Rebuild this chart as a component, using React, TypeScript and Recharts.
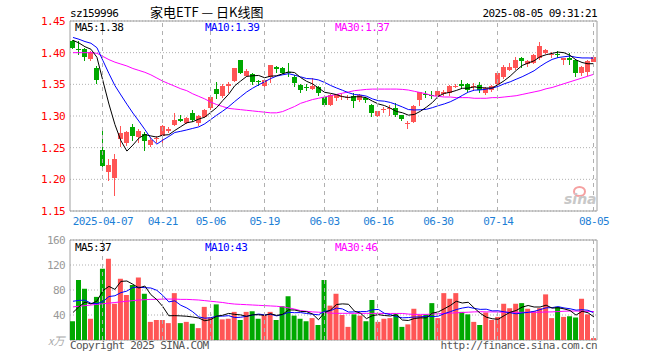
import React from "react";
import {
  ComposedChart,
  Bar,
  Line,
  XAxis,
  YAxis,
  CartesianGrid,
  ReferenceArea,
  Cell,
} from "recharts";

const MONO = "'DejaVu Sans Mono', monospace";
const CJK = "'Noto Sans CJK SC', sans-serif";
const RED = "#ff5555";
const GREEN = "#00a800";
const GRID = "#b0b0b0";
const FRAME = "#a0a0a0";

const dates = [
  "03-28", "03-31", "04-01", "04-02", "04-03", "04-07", "04-08", "04-09", "04-10", "04-11",
  "04-14", "04-15", "04-16", "04-17", "04-18", "04-21", "04-22", "04-23", "04-24", "04-25",
  "04-28", "04-29", "04-30", "05-06", "05-07", "05-08", "05-09", "05-12", "05-13", "05-14",
  "05-15", "05-16", "05-19", "05-20", "05-21", "05-22", "05-23", "05-26", "05-27", "05-28",
  "05-29", "05-30", "06-03", "06-04", "06-05", "06-06", "06-09", "06-10", "06-11", "06-12",
  "06-13", "06-16", "06-17", "06-18", "06-19", "06-20", "06-23", "06-24", "06-25", "06-26",
  "06-27", "06-30", "07-01", "07-02", "07-03", "07-04", "07-07", "07-08", "07-09", "07-10",
  "07-11", "07-14", "07-15", "07-16", "07-17", "07-18", "07-21", "07-22", "07-23", "07-24",
  "07-25", "07-28", "07-29", "07-30", "07-31", "08-01", "08-04", "08-05",
];

const labelDates = ["04-07", "04-21", "05-06", "05-19", "06-03", "06-16", "06-30", "07-14", "08-05"];

const opens = [
  1.418, 1.405, 1.4055, 1.39, 1.375, 1.246, 1.211, 1.202, 1.263, 1.2575,
  1.2825, 1.2665, 1.271, 1.254, 1.264, 1.269, 1.276, 1.286, 1.296, 1.289,
  1.305, 1.289, 1.299, 1.313, 1.343, 1.331, 1.3475, 1.356, 1.388, 1.3637,
  1.3665, 1.355, 1.3475, 1.362, 1.378, 1.375, 1.37, 1.361, 1.349, 1.345,
  1.343, 1.345, 1.33, 1.3175, 1.3285, 1.331, 1.328, 1.331, 1.3247, 1.328,
  1.318, 1.3, 1.3095, 1.311, 1.3125, 1.3008, 1.2875, 1.29, 1.3247, 1.335,
  1.3336, 1.332, 1.334, 1.336, 1.345, 1.3505, 1.35, 1.3456, 1.349, 1.3363,
  1.3414, 1.3508, 1.361, 1.3727, 1.375, 1.391, 1.382, 1.383, 1.391, 1.3997,
  1.396, 1.3985, 1.3883, 1.391, 1.389, 1.3684, 1.37, 1.3856,
];
const highs = [
  1.42, 1.418, 1.408, 1.402, 1.379, 1.279, 1.232, 1.24, 1.285, 1.276,
  1.287, 1.279, 1.274, 1.265, 1.268, 1.286, 1.282, 1.304, 1.301, 1.299,
  1.309, 1.302, 1.311, 1.332, 1.353, 1.35, 1.353, 1.376, 1.389, 1.3735,
  1.368, 1.357, 1.359, 1.381, 1.379, 1.377, 1.383, 1.364, 1.35, 1.35,
  1.36, 1.347, 1.333, 1.334, 1.335, 1.334, 1.333, 1.336, 1.335, 1.33,
  1.319, 1.308, 1.3135, 1.318, 1.3206, 1.301, 1.292, 1.318, 1.338, 1.339,
  1.34, 1.34, 1.341, 1.349, 1.351, 1.357, 1.352, 1.352, 1.353, 1.345,
  1.349, 1.37, 1.3805, 1.383, 1.3935, 1.3935, 1.389, 1.398, 1.417, 1.405,
  1.401, 1.403, 1.392, 1.399, 1.39, 1.379, 1.388, 1.3935,
];
const lows = [
  1.405, 1.397, 1.387, 1.387, 1.351, 1.22, 1.197, 1.173, 1.251, 1.252,
  1.26, 1.258, 1.245, 1.251, 1.258, 1.256, 1.273, 1.284, 1.29, 1.287,
  1.29, 1.284, 1.297, 1.31, 1.327, 1.329, 1.336, 1.353, 1.366, 1.362,
  1.349, 1.348, 1.343, 1.352, 1.368, 1.366, 1.361, 1.346, 1.337, 1.339,
  1.341, 1.332, 1.315, 1.316, 1.323, 1.326, 1.325, 1.313, 1.322, 1.3206,
  1.299, 1.299, 1.305, 1.3, 1.298, 1.292, 1.279, 1.289, 1.3164, 1.3285,
  1.327, 1.331, 1.332, 1.332, 1.344, 1.3425, 1.338, 1.339, 1.336, 1.333,
  1.338, 1.349, 1.359, 1.371, 1.373, 1.375, 1.378, 1.382, 1.389, 1.398,
  1.391, 1.391, 1.3805, 1.38, 1.362, 1.3625, 1.3633, 1.385,
];
const closes = [
  1.408, 1.404, 1.3935, 1.401, 1.357, 1.221, 1.222, 1.232, 1.273, 1.275,
  1.2685, 1.2765, 1.2605, 1.262, 1.266, 1.284, 1.28, 1.294, 1.292, 1.2965,
  1.293, 1.3, 1.309, 1.33, 1.3347, 1.348, 1.3505, 1.375, 1.368, 1.371,
  1.353, 1.353, 1.357, 1.3805, 1.374, 1.3685, 1.368, 1.352, 1.3415, 1.344,
  1.348, 1.336, 1.318, 1.333, 1.334, 1.332, 1.3295, 1.323, 1.3336, 1.326,
  1.305, 1.3075, 1.3105, 1.3125, 1.3008, 1.2945, 1.2885, 1.316, 1.3372, 1.333,
  1.331, 1.339, 1.338, 1.3466, 1.347, 1.348, 1.3403, 1.3476, 1.3414, 1.344,
  1.3476, 1.3675, 1.378, 1.378, 1.388, 1.3872, 1.3867, 1.396, 1.41, 1.404,
  1.3976, 1.397, 1.391, 1.389, 1.3684, 1.377, 1.3867, 1.3925,
];
// volume in 万
const volumes = [
  30, 96, 82, 34, 69, 114, 130, 58, 98, 72,
  88, 100, 74, 29, 32, 32, 27, 75, 27, 29,
  26, 19, 53, 36, 57, 33, 34, 45, 32, 45,
  46, 34, 40, 45, 32, 54, 70, 39, 34, 30,
  35, 24, 96, 55, 74, 40, 21, 41, 39, 30,
  64, 29, 34, 35, 41, 21, 25, 50, 40, 41,
  59, 35, 75, 66, 75, 45, 41, 29, 24, 44,
  32, 37, 58, 51, 58, 59, 50, 46, 51, 73,
  35, 53, 37, 38, 36, 66, 41, 3,
];

// sessions before the visible window (estimated), needed for the first MA5 / MA10 points
const prevCloses = [1.432, 1.43, 1.428, 1.427, 1.4255, 1.425, 1.423, 1.421, 1.4205];
const prevVolumes = [82, 78, 85, 75, 80, 50, 45, 48, 47];

// MA30 (its window reaches far before the first candle)
const priceMa30 = [
  1.4, 1.4, 1.4, 1.4, 1.399, 1.394, 1.389, 1.385, 1.382, 1.379,
  1.375, 1.372, 1.369, 1.365, 1.36, 1.355, 1.351, 1.347, 1.343, 1.34,
  1.335, 1.331, 1.327, 1.322, 1.318, 1.315, 1.312, 1.311, 1.31, 1.309,
  1.308, 1.307, 1.306, 1.305, 1.305, 1.307, 1.311, 1.315, 1.32, 1.323,
  1.326, 1.328, 1.33, 1.332, 1.334, 1.336, 1.338, 1.34, 1.341, 1.342,
  1.3425, 1.3425, 1.3425, 1.3425, 1.3425, 1.342, 1.341, 1.339, 1.337, 1.335,
  1.332, 1.331, 1.33, 1.33, 1.329, 1.329, 1.329, 1.328, 1.328, 1.328,
  1.329, 1.329, 1.33, 1.331, 1.332, 1.334, 1.336, 1.338, 1.34, 1.343,
  1.345, 1.348, 1.351, 1.354, 1.357, 1.36, 1.363, 1.366,
];
const volumeMa30 = [
  53, 54, 55, 56, 57, 58, 59, 60, 61, 62,
  63, 64, 64.5, 65, 65, 65.5, 65.5, 65.5, 65, 65,
  64.5, 64, 63, 62, 61, 60, 58.5, 57.5, 57, 56.5,
  56, 55.5, 55, 54.5, 54, 53, 51.5, 49.5, 47, 46,
  45, 44.5, 44, 43, 42.7, 42.7, 42.7, 42.7, 42.7, 42.7,
  42.6, 42.6, 42.5, 42.5, 42.5, 42.5, 41.5, 41, 41, 41,
  41.5, 42, 42.5, 43, 43.5, 44, 44.5, 45, 45.3, 45,
  45, 44.8, 44.5, 44.3, 44.3, 44.3, 44.3, 44.3, 44.5, 44.8,
  45, 45.5, 46, 46.4, 46.4, 46, 45.8, 45.5,
];

const priceTicks = [1.15, 1.2, 1.25, 1.3, 1.35, 1.4, 1.45];
const volumeTicks = [0, 40, 80, 120, 160];

// layout of the two panels
const PRICE_H = 230;
const PRICE_TOP = 21;
const PRICE_AXIS_H = 19;
const PRICE_PLOT_H = PRICE_H - PRICE_TOP - PRICE_AXIS_H;
const VOL_H = 130;
const VOL_TOP = 10;
const VOL_AXIS_H = 20;
const VOL_PLOT_H = VOL_H - VOL_TOP - VOL_AXIS_H;

function movingAverage(values: number[], prev: number[], n: number) {
  const all = [...prev, ...values];
  return values.map((_, i) => {
    const end = prev.length + i + 1;
    return all.slice(end - n, end).reduce((a, b) => a + b, 0) / n;
  });
}

const ma5 = movingAverage(closes, prevCloses, 5);
const ma10 = movingAverage(closes, prevCloses, 10);
const vma5 = movingAverage(volumes, prevVolumes, 5);
const vma10 = movingAverage(volumes, prevVolumes, 10);

const rows = dates.map((date, i) => ({
  date,
  open: opens[i],
  high: highs[i],
  low: lows[i],
  close: closes[i],
  range: [lows[i], highs[i]],
  up: closes[i] >= opens[i],
  vol: volumes[i],
  ma5: ma5[i],
  ma10: ma10[i],
  ma30: priceMa30[i],
  vma5: vma5[i],
  vma10: vma10[i],
  vma30: volumeMa30[i],
}));

const last = rows.length - 1;

function Candle(props: any) {
  const { x, y, width, height, payload } = props;
  if (x == null || !payload) return null;
  const top = Math.min(y, y + height);
  const h = Math.abs(height);
  const span = payload.high - payload.low;
  const k = span > 0 ? h / span : 0;
  const yOpen = top + (payload.high - payload.open) * k;
  const yClose = top + (payload.high - payload.close) * k;
  const color = payload.up ? RED : GREEN;
  const bx = Math.round(x);
  const cx = bx + Math.floor(width / 2) + 0.5;
  const b1 = Math.round(Math.min(yOpen, yClose));
  const b2 = Math.round(Math.max(yOpen, yClose));
  return (
    <g>
      <line x1={cx} x2={cx} y1={Math.round(top)} y2={Math.round(top + h)} stroke={color} strokeWidth={1} shapeRendering="crispEdges" />
      <rect x={bx} y={b1} width={Math.round(width)} height={Math.max(1, b2 - b1)} fill={color} shapeRendering="crispEdges" />
    </g>
  );
}

// tick at a labelled date: dashed grid line up through the panel, plus the date text (price panel only)
function makeDateTick(plotH: number, withText: boolean) {
  return function DateTick(props: any) {
    const { x, y, payload } = props;
    const v = payload?.value;
    if (!labelDates.includes(v)) return <g />;
    const gx = Math.round(x) - 0.5;
    const text = v === labelDates[0] ? `2025-${v}` : v;
    return (
      <g>
        <line x1={gx} x2={gx} y1={y} y2={y - plotH} stroke={GRID} strokeDasharray="4 4" />
        {withText && (
          <text x={x} y={y} dy={14} textAnchor="middle" fill="#1e7fd6" fontSize={11} fontFamily={MONO} style={{ letterSpacing: -0.6 }}>
            {text}
          </text>
        )}
      </g>
    );
  };
}
const PriceDateTick = makeDateTick(PRICE_PLOT_H, true);
const VolDateTick = makeDateTick(VOL_PLOT_H, false);

const txt = (left: number, top: number, color: string, extra: React.CSSProperties = {}): React.CSSProperties => ({
  position: "absolute",
  left,
  top,
  color,
  fontFamily: MONO,
  fontSize: 11,
  letterSpacing: -0.6,
  lineHeight: "11px",
  whiteSpace: "nowrap",
  ...extra,
});

export default function App() {
  return (
    <div style={{ position: "absolute", left: 0, top: 0, width: 660, height: 360, background: "#fff", overflow: "hidden" }}>
      <div style={{ position: "absolute", left: 0, top: 0 }}>
        <ComposedChart width={660} height={PRICE_H} data={rows} margin={{ top: PRICE_TOP, right: 63, bottom: 0, left: 0 }} barCategoryGap={0}>
          <CartesianGrid vertical={false} stroke={GRID} strokeDasharray="1 2" />
          <ReferenceArea y1={1.15} y2={1.45} fill="none" fillOpacity={0} stroke={FRAME} strokeWidth={1} />
          <XAxis dataKey="date" interval={0} tick={<PriceDateTick />} tickLine={false} axisLine={false} tickSize={0} tickMargin={0} height={PRICE_AXIS_H} />
          <YAxis
            width={70}
            domain={[1.15, 1.45]}
            ticks={priceTicks}
            allowDataOverflow
            tickFormatter={(v: number) => v.toFixed(2)}
            tick={{ fill: "#ff0000", fontSize: 11, fontFamily: MONO, style: { letterSpacing: -0.6 } }}
            tickLine={false}
            axisLine={false}
            tickSize={3}
            tickMargin={2}
          />
          <Bar dataKey="range" barSize={5} shape={<Candle />} isAnimationActive={false} />
          <Line dataKey="ma30" stroke="#ff00ff" strokeWidth={1} dot={false} isAnimationActive={false} />
          <Line dataKey="ma10" stroke="#0000ff" strokeWidth={1} dot={false} isAnimationActive={false} />
          <Line dataKey="ma5" stroke="#000000" strokeWidth={1} dot={false} isAnimationActive={false} />
        </ComposedChart>
      </div>

      <div style={{ position: "absolute", left: 0, top: PRICE_H }}>
        <ComposedChart width={660} height={VOL_H} data={rows} margin={{ top: VOL_TOP, right: 63, bottom: 0, left: 0 }} barCategoryGap={0}>
          <CartesianGrid vertical={false} stroke={GRID} strokeDasharray="1 2" />
          <ReferenceArea y1={0} y2={160} fill="none" fillOpacity={0} stroke={FRAME} strokeWidth={1} />
          <XAxis dataKey="date" interval={0} tick={<VolDateTick />} tickLine={false} axisLine={false} tickSize={0} tickMargin={0} height={VOL_AXIS_H} />
          <YAxis
            width={70}
            domain={[0, 160]}
            ticks={volumeTicks}
            allowDataOverflow
            tickFormatter={(v: number) => (v === 0 ? "" : String(v))}
            tick={{ fill: "#999999", fontSize: 11, fontFamily: MONO, style: { letterSpacing: -0.6 } }}
            tickLine={false}
            axisLine={false}
            tickSize={3}
            tickMargin={2}
          />
          <Bar dataKey="vol" barSize={5} isAnimationActive={false}>
            {rows.map((r, i) => (
              <Cell key={i} fill={r.up ? RED : GREEN} />
            ))}
          </Bar>
          <Line dataKey="vma30" stroke="#ff00ff" strokeWidth={1} dot={false} isAnimationActive={false} />
          <Line dataKey="vma10" stroke="#0000ff" strokeWidth={1} dot={false} isAnimationActive={false} />
          <Line dataKey="vma5" stroke="#000000" strokeWidth={1} dot={false} isAnimationActive={false} />
        </ComposedChart>
      </div>

      {/* header */}
      <div style={txt(70, 8, "#000")}>sz159996</div>
      <div style={{ position: "absolute", left: 150, top: 4, fontFamily: CJK, fontSize: 13, lineHeight: "15px", color: "#000", whiteSpace: "pre" }}>
        家电ETF — 日K线图
      </div>
      <div style={txt(0, 8, "#000", { left: "auto", right: 63 })}>2025-08-05 09:31:21</div>

      {/* price MA legend */}
      <div style={txt(75, 22, "#000")}>MA5:{rows[last].ma5.toFixed(2)}</div>
      <div style={txt(205, 22, "#0000ff")}>MA10:{rows[last].ma10.toFixed(2)}</div>
      <div style={txt(335, 22, "#ff00ff")}>MA30:{rows[last].ma30.toFixed(2)}</div>

      {/* volume MA legend */}
      <div style={txt(75, 242, "#000")}>MA5:{Math.round(rows[last].vma5)}</div>
      <div style={txt(205, 242, "#0000ff")}>MA10:{Math.round(rows[last].vma10)}</div>
      <div style={txt(335, 242, "#ff00ff")}>MA30:{Math.round(rows[last].vma30)}</div>

      {/* sina watermark */}
      <div style={{ position: "absolute", left: 573, top: 186, width: 9, height: 7, border: "2px solid #f5a0a0", borderRadius: "50%" }} />
      <div style={{ position: "absolute", left: 564, top: 192, fontFamily: "'DejaVu Sans', sans-serif", fontSize: 14, fontWeight: "bold", fontStyle: "italic", color: "#c8c8c8", lineHeight: "14px" }}>
        sina
      </div>

      {/* footer */}
      <div style={{ position: "absolute", left: 48, top: 334, fontFamily: CJK, fontSize: 11, lineHeight: "12px", color: "#aaaaaa", fontStyle: "italic" }}>x万</div>
      <div style={txt(70, 340, "#555555")}>Copyright 2025 SINA.COM</div>
      <div style={txt(0, 340, "#555555", { left: "auto", right: 63 })}>http://finance.sina.com.cn</div>
    </div>
  );
}
